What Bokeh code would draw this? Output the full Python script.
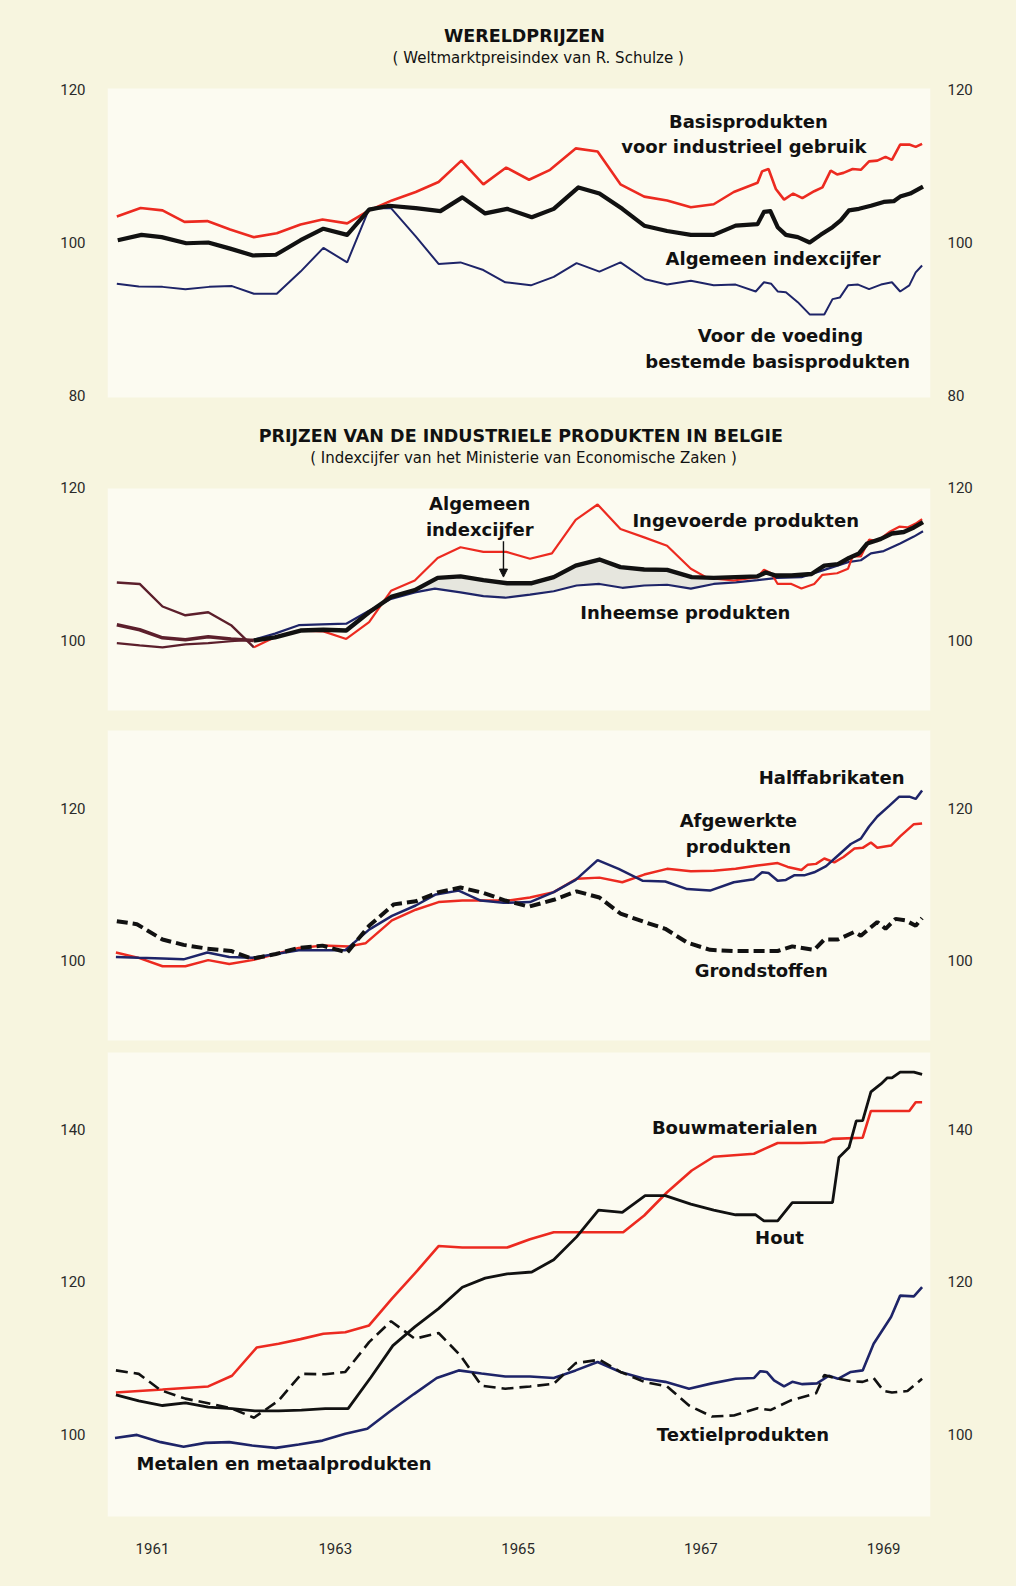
from bokeh.plotting import figure
from bokeh.models import Range1d, LinearAxis, FixedTicker, BoxAnnotation, Arrow, NormalHead, CustomJSTickFormatter, ColumnDataSource
from bokeh.layouts import column
from bokeh.core.properties import value
from bokeh.embed import file_html
from bokeh.resources import INLINE

# ---------------- DATA ----------------
# Panel 1: Wereldprijzen
W_IND_X = [1961.11, 1961.37, 1961.61, 1961.85, 1962.10, 1962.35, 1962.61, 1962.86, 1963.12, 1963.36, 1963.63, 1963.87,
           1964.12, 1964.38, 1964.63, 1964.88, 1965.12, 1965.37, 1965.62, 1965.85, 1966.13, 1966.37, 1966.62, 1966.88,
           1967.13, 1967.39, 1967.64, 1967.86, 1968.12, 1968.17, 1968.24, 1968.32, 1968.41, 1968.51, 1968.61, 1968.74,
           1968.83, 1968.92, 1968.99, 1969.06, 1969.16, 1969.25, 1969.34, 1969.43, 1969.52, 1969.59, 1969.68, 1969.78,
           1969.85, 1969.92]
W_IND_Y = [103.4, 104.5, 104.2, 102.7, 102.8, 101.7, 100.7, 101.2, 102.35, 103.0, 102.5, 104.2,
           105.5, 106.6, 107.9, 110.7, 107.6, 109.8, 108.2, 109.5, 112.3, 111.9, 107.6, 106.0,
           105.5, 104.6, 105.0, 106.6, 107.8, 109.3, 109.6, 107.0, 105.6, 106.4, 105.8, 106.7,
           107.2, 109.4, 108.9, 109.1, 109.6, 109.5, 110.6, 110.7, 111.2, 110.8, 112.8, 112.8,
           112.5, 112.9]
W_GEN_X = [1961.12, 1961.38, 1961.60, 1961.87, 1962.11, 1962.35, 1962.60, 1962.85, 1963.12, 1963.37, 1963.63, 1963.87,
           1964.09, 1964.38, 1964.65, 1964.89, 1965.14, 1965.38, 1965.65, 1965.89, 1966.16, 1966.39, 1966.64, 1966.88,
           1967.13, 1967.39, 1967.64, 1967.88, 1968.12, 1968.19, 1968.26, 1968.34, 1968.43, 1968.56, 1968.69, 1968.81,
           1968.94, 1969.03, 1969.12, 1969.23, 1969.36, 1969.50, 1969.61, 1969.68, 1969.79, 1969.93]
W_GEN_Y = [100.3, 101.0, 100.7, 99.9, 100.0, 99.2, 98.3, 98.4, 100.3, 101.8, 101.0, 104.3,
           104.8, 104.5, 104.1, 105.9, 103.8, 104.4, 103.3, 104.4, 107.2, 106.4, 104.4, 102.2,
           101.5, 101.0, 101.0, 102.2, 102.4, 104.0, 104.1, 102.0, 101.0, 100.7, 100.0, 101.0,
           102.0, 102.9, 104.2, 104.4, 104.8, 105.3, 105.4, 106.0, 106.4, 107.3]
W_FOOD_X = [1961.11, 1961.35, 1961.61, 1961.86, 1962.12, 1962.37, 1962.61, 1962.86, 1963.12, 1963.37, 1963.63, 1963.87,
            1964.11, 1964.38, 1964.63, 1964.87, 1965.12, 1965.36, 1965.64, 1965.89, 1966.14, 1966.39, 1966.62, 1966.89,
            1967.13, 1967.39, 1967.64, 1967.88, 1968.10, 1968.19, 1968.27, 1968.34, 1968.43, 1968.56, 1968.69, 1968.85,
            1968.94, 1969.02, 1969.11, 1969.22, 1969.34, 1969.47, 1969.59, 1969.68, 1969.78, 1969.85, 1969.92]
W_FOOD_Y = [94.6, 94.25, 94.2, 93.9, 94.2, 94.3, 93.3, 93.3, 96.2, 99.3, 97.4, 104.4,
            104.5, 100.8, 97.2, 97.4, 96.4, 94.8, 94.4, 95.5, 97.3, 96.2, 97.4, 95.2,
            94.5, 95.0, 94.4, 94.5, 93.6, 94.8, 94.6, 93.6, 93.5, 92.2, 90.6, 90.6,
            92.6, 92.8, 94.4, 94.5, 93.9, 94.5, 94.8, 93.6, 94.4, 96.1, 97.0]

# Panel 2: Prijzen van de industriele produkten in Belgie
B_EARLY_X = [1961.11, 1961.36, 1961.61, 1961.86, 1962.11, 1962.36, 1962.61]
B_IMP_EARLY = [107.6, 107.4, 104.45, 103.3, 103.7, 102.0, 99.1]
B_GEN_EARLY = [102.05, 101.4, 100.35, 100.1, 100.5, 100.2, 100.0]
B_DOM_EARLY = [99.65, 99.35, 99.1, 99.5, 99.65, 99.9, 100.1]
B_IMP_X = [1962.61, 1962.85, 1963.12, 1963.37, 1963.62, 1963.87, 1964.11, 1964.37, 1964.62, 1964.87, 1965.12, 1965.37,
           1965.63, 1965.87, 1966.13, 1966.37, 1966.62, 1966.88, 1967.13, 1967.39, 1967.57, 1967.86, 1968.12, 1968.19,
           1968.27, 1968.34, 1968.49, 1968.60, 1968.74, 1968.83, 1968.99, 1969.11, 1969.16, 1969.25, 1969.34, 1969.43,
           1969.56, 1969.67, 1969.76, 1969.85, 1969.92]
B_IMP_Y = [99.1, 100.5, 101.3, 101.2, 100.2, 102.4, 106.5, 107.85, 110.8, 112.2, 111.6, 111.6,
           110.7, 111.4, 115.8, 117.8, 114.6, 113.5, 112.4, 109.4, 108.2, 107.85, 108.3, 109.25,
           108.8, 107.4, 107.4, 106.8, 107.4, 108.6, 108.8, 109.4, 111.0, 111.0, 113.2, 113.0,
           114.2, 114.9, 114.8, 115.3, 115.9]
B_GEN_X = [1962.61, 1962.84, 1963.12, 1963.37, 1963.62, 1963.87, 1964.11, 1964.37, 1964.62, 1964.87, 1965.12, 1965.38,
           1965.65, 1965.89, 1966.13, 1966.39, 1966.62, 1966.88, 1967.13, 1967.40, 1967.64, 1967.88, 1968.12, 1968.21,
           1968.32, 1968.49, 1968.71, 1968.85, 1969.00, 1969.12, 1969.23, 1969.32, 1969.47, 1969.59, 1969.72, 1969.83,
           1969.93]
B_GEN_Y = [100.0, 100.4, 101.3, 101.4, 101.3, 103.7, 105.7, 106.6, 108.2, 108.4, 107.9, 107.5,
           107.5, 108.3, 109.8, 110.6, 109.6, 109.3, 109.25, 108.3, 108.2, 108.3, 108.4, 108.9,
           108.5, 108.5, 108.7, 109.8, 110.0, 110.8, 111.4, 112.7, 113.3, 114.0, 114.2, 114.8,
           115.5]
B_DOM_X = [1962.61, 1962.84, 1963.10, 1963.35, 1963.62, 1963.87, 1964.11, 1964.37, 1964.59, 1964.87, 1965.12, 1965.36,
           1965.63, 1965.89, 1966.14, 1966.39, 1966.64, 1966.88, 1967.13, 1967.39, 1967.64, 1967.88, 1968.12, 1968.34,
           1968.60, 1968.85, 1969.11, 1969.25, 1969.36, 1969.50, 1969.68, 1969.83, 1969.93]
B_DOM_Y = [100.1, 100.9, 102.0, 102.1, 102.2, 103.9, 105.45, 106.3, 106.8, 106.3, 105.8, 105.6,
           106.0, 106.45, 107.2, 107.4, 106.9, 107.2, 107.3, 106.8, 107.4, 107.6, 107.9, 108.2,
           108.3, 109.25, 110.25, 110.5, 111.4, 111.7, 112.7, 113.6, 114.3]

# Panel 3: Halffabrikaten / Afgewerkte produkten / Grondstoffen
H_SEMI_X = [1961.10, 1961.35, 1961.61, 1961.84, 1962.10, 1962.34, 1962.59, 1962.85, 1963.10, 1963.36, 1963.61, 1963.87,
            1964.12, 1964.38, 1964.60, 1964.85, 1965.09, 1965.34, 1965.63, 1965.89, 1966.13, 1966.37, 1966.60, 1966.86,
            1967.11, 1967.35, 1967.60, 1967.86, 1968.08, 1968.17, 1968.24, 1968.34, 1968.43, 1968.52, 1968.63, 1968.74,
            1968.87, 1969.00, 1969.14, 1969.25, 1969.34, 1969.43, 1969.56, 1969.67, 1969.78, 1969.85, 1969.92]
H_SEMI_Y = [100.5, 100.4, 100.3, 100.2, 101.1, 100.5, 100.4, 100.9, 101.4, 101.4, 101.4, 104.1,
            105.9, 107.25, 108.7, 109.2, 107.9, 107.6, 107.7, 109.0, 110.6, 113.2, 112.05, 110.5,
            110.4, 109.4, 109.2, 110.3, 110.7, 111.6, 111.5, 110.5, 110.6, 111.2, 111.2, 111.6,
            112.4, 113.8, 115.3, 116.0, 117.6, 118.9, 120.3, 121.5, 121.5, 121.2, 122.3]
H_FIN_X = [1961.10, 1961.35, 1961.61, 1961.86, 1962.11, 1962.34, 1962.59, 1962.85, 1963.10, 1963.36, 1963.65, 1963.83,
           1964.12, 1964.38, 1964.63, 1964.89, 1965.14, 1965.40, 1965.63, 1965.89, 1966.14, 1966.39, 1966.64, 1966.88,
           1967.13, 1967.39, 1967.64, 1967.88, 1968.12, 1968.34, 1968.45, 1968.60, 1968.67, 1968.76, 1968.85, 1968.96,
           1969.06, 1969.18, 1969.27, 1969.36, 1969.43, 1969.58, 1969.68, 1969.83, 1969.92]
H_FIN_Y = [101.1, 100.4, 99.3, 99.3, 100.1, 99.6, 100.1, 100.9, 101.7, 102.0, 101.9, 102.3,
           105.3, 106.7, 107.7, 107.9, 107.9, 107.9, 108.3, 109.0, 110.75, 110.9, 110.3, 111.3,
           112.05, 111.75, 111.8, 112.05, 112.5, 112.8, 112.3, 111.9, 112.6, 112.7, 113.4, 112.9,
           113.6, 114.7, 114.8, 115.5, 114.8, 115.1, 116.3, 117.9, 118.0]
H_RAW_X = [1961.11, 1961.33, 1961.61, 1961.84, 1962.10, 1962.36, 1962.59, 1962.85, 1963.10, 1963.36, 1963.63, 1963.87,
           1964.14, 1964.38, 1964.63, 1964.87, 1965.12, 1965.36, 1965.62, 1965.89, 1966.14, 1966.39, 1966.62, 1966.88,
           1967.11, 1967.35, 1967.60, 1967.86, 1968.12, 1968.34, 1968.50, 1968.74, 1968.85, 1969.00, 1969.18, 1969.25,
           1969.36, 1969.43, 1969.52, 1969.63, 1969.74, 1969.85, 1969.92]
H_RAW_Y = [105.2, 104.8, 102.8, 102.1, 101.6, 101.3, 100.3, 100.9, 101.7, 102.0, 101.1, 104.6,
           107.4, 107.8, 109.0, 109.6, 108.9, 107.9, 107.1, 108.0, 109.1, 108.3, 106.2, 105.1,
           104.2, 102.4, 101.45, 101.3, 101.3, 101.3, 101.9, 101.45, 102.8, 102.8, 103.8, 103.3,
           104.4, 105.1, 104.2, 105.5, 105.3, 104.6, 105.6]

# Panel 4: Bouwmaterialen / Hout / Metalen / Textiel
S_BUILD_X = [1961.10, 1961.35, 1961.61, 1961.86, 1962.11, 1962.37, 1962.64, 1962.88, 1963.12, 1963.37, 1963.61, 1963.87,
             1964.12, 1964.40, 1964.63, 1964.89, 1965.12, 1965.38, 1965.63, 1965.89, 1966.14, 1966.40, 1966.65, 1966.88,
             1967.13, 1967.40, 1967.64, 1967.86, 1968.08, 1968.19, 1968.34, 1968.60, 1968.85, 1968.94, 1969.27, 1969.36,
             1969.59, 1969.78, 1969.85, 1969.92]
S_BUILD_Y = [105.5, 105.7, 105.9, 106.1, 106.3, 107.7, 111.4, 111.9, 112.5, 113.2, 113.4, 114.3,
             117.8, 121.5, 124.7, 124.5, 124.5, 124.5, 125.6, 126.5, 126.5, 126.5, 126.5, 128.7,
             131.75, 134.6, 136.4, 136.6, 136.8, 137.4, 138.2, 138.2, 138.3, 138.75, 138.9, 142.4,
             142.4, 142.4, 143.55, 143.55]
S_WOOD_X = [1961.10, 1961.35, 1961.61, 1961.86, 1962.11, 1962.37, 1962.62, 1962.88, 1963.13, 1963.39, 1963.64, 1963.89,
            1964.13, 1964.37, 1964.63, 1964.89, 1965.14, 1965.38, 1965.65, 1965.89, 1966.14, 1966.38, 1966.64, 1966.89,
            1967.11, 1967.39, 1967.64, 1967.88, 1968.10, 1968.19, 1968.34, 1968.50, 1968.72, 1968.94, 1969.01, 1969.12,
            1969.20, 1969.27, 1969.36, 1969.47, 1969.54, 1969.59, 1969.68, 1969.83, 1969.92]
S_WOOD_Y = [105.2, 104.4, 103.8, 104.15, 103.6, 103.4, 103.1, 103.1, 103.2, 103.4, 103.4, 107.5,
            111.65, 114.1, 116.5, 119.3, 120.5, 121.05, 121.3, 122.9, 125.9, 129.4, 129.1, 131.3,
            131.3, 130.2, 129.4, 128.8, 128.8, 128.0, 128.0, 130.4, 130.4, 130.4, 136.3, 137.6,
            141.1, 141.15, 144.9, 145.95, 146.75, 146.75, 147.5, 147.5, 147.2]
S_METAL_X = [1961.09, 1961.33, 1961.59, 1961.84, 1962.08, 1962.34, 1962.59, 1962.85, 1963.10, 1963.36, 1963.61, 1963.85,
             1964.10, 1964.36, 1964.61, 1964.85, 1965.10, 1965.36, 1965.63, 1965.89, 1966.13, 1966.37, 1966.62, 1966.88,
             1967.11, 1967.37, 1967.62, 1967.88, 1968.08, 1968.15, 1968.22, 1968.30, 1968.41, 1968.50, 1968.61, 1968.77,
             1968.90, 1969.00, 1969.14, 1969.27, 1969.39, 1969.58, 1969.68, 1969.83, 1969.92]
S_METAL_Y = [99.55, 99.95, 99.0, 98.4, 98.9, 99.0, 98.55, 98.25, 98.7, 99.2, 100.1, 100.75,
             103.05, 105.3, 107.4, 108.4, 108.0, 107.6, 107.6, 107.4, 108.4, 109.5, 108.2, 107.3,
             106.9, 106.0, 106.7, 107.3, 107.4, 108.3, 108.2, 107.1, 106.3, 106.9, 106.6, 106.7,
             107.7, 107.3, 108.2, 108.4, 111.9, 115.4, 118.2, 118.1, 119.3]
S_TEXT_X = [1961.10, 1961.35, 1961.59, 1961.86, 1962.11, 1962.37, 1962.61, 1962.88, 1963.13, 1963.39, 1963.61, 1963.87,
            1964.11, 1964.37, 1964.63, 1964.87, 1965.10, 1965.36, 1965.63, 1965.89, 1966.13, 1966.39, 1966.62, 1966.88,
            1967.13, 1967.37, 1967.62, 1967.86, 1968.12, 1968.26, 1968.49, 1968.76, 1968.85, 1968.96, 1969.14, 1969.27,
            1969.39, 1969.50, 1969.59, 1969.76, 1969.92]
S_TEXT_Y = [108.4, 107.95, 105.8, 104.7, 104.1, 103.4, 102.2, 104.45, 107.95, 107.9, 108.2, 112.1,
            114.85, 112.55, 113.3, 110.35, 106.4, 106.0, 106.3, 106.65, 109.35, 109.8, 108.2, 106.9,
            106.3, 103.8, 102.35, 102.5, 103.45, 103.2, 104.5, 105.4, 107.8, 107.4, 107.0, 106.9,
            107.4, 105.7, 105.5, 105.7, 107.3]

YEAR_TICKS = [1961.5, 1963.5, 1965.5, 1967.5, 1969.5]
TICKS_P1 = [80, 100, 120]
TICKS_P2 = [100, 120]
TICKS_P3 = [100, 120]
TICKS_P4 = [100, 120, 140]

# ---------------- STYLE ----------------
PAGE = "#F7F5DF"
BOX = "#FCFBF1"
RED = "#EC2A20"
NAVY = "#1E2468"
BLACK = "#111111"
MAROON = "#5C1F2C"
LABEL_FONT = value("DejaVu Sans")
TICK_FONT = "Roboto"

X_RANGE = (1961.008, 1970.012)


def make_fig(height, ylo, yhi, ticks, bottom_border=0, xaxis=False):
    p = figure(width=1000, height=height,
               x_range=Range1d(*X_RANGE), y_range=Range1d(ylo, yhi),
               output_backend="svg", toolbar_location=None,
               x_axis_location="below" if xaxis else None, y_axis_location="left",
               min_border_left=99, min_border_right=78, min_border_top=0,
               min_border_bottom=bottom_border,
               background_fill_color=PAGE, border_fill_color=PAGE, outline_line_color=None)
    p.grid.visible = False
    right = LinearAxis()
    p.add_layout(right, "right")
    for ax, standoff in ((p.yaxis[0], 22), (right, 17)):
        ax.ticker = FixedTicker(ticks=ticks)
        ax.axis_line_color = None
        ax.major_tick_line_color = None
        ax.minor_tick_line_color = None
        ax.major_tick_in = 0
        ax.major_tick_out = 0
        ax.major_label_standoff = standoff
        ax.major_label_text_font = TICK_FONT
        ax.major_label_text_font_size = "15px"
        ax.major_label_text_color = "#2A2A2A"
    if xaxis:
        xa = p.xaxis[0]
        xa.ticker = FixedTicker(ticks=YEAR_TICKS)
        xa.formatter = CustomJSTickFormatter(code="return String(Math.floor(tick));")
        xa.axis_line_color = None
        xa.major_tick_line_color = None
        xa.minor_tick_line_color = None
        xa.major_tick_in = 0
        xa.major_tick_out = 0
        xa.major_label_standoff = 22
        xa.major_label_text_font = TICK_FONT
        xa.major_label_text_font_size = "15px"
        xa.major_label_text_color = "#2A2A2A"
    return p


def add_box(p, bottom, top):
    p.add_layout(BoxAnnotation(bottom=bottom, top=top, fill_color=BOX, fill_alpha=1.0,
                               line_color=None, level="underlay"))


def add_labels(p, xs, ys, texts, size="18px"):
    src = ColumnDataSource(dict(x=xs, y=ys, t=texts))
    p.text(x="x", y="y", text="t", source=src, text_font=LABEL_FONT, text_font_style="bold",
           text_font_size=size, text_align="center", text_baseline="middle", text_color=BLACK)


def add_title(p, x, y, title, sub_x, sub_y, subtitle):
    p.text(x=[x], y=[y], text=[title], text_font=LABEL_FONT, text_font_style="bold",
           text_font_size="17.5px", text_align="center", text_baseline="middle", text_color=BLACK)
    p.text(x=[sub_x], y=[sub_y], text=[subtitle], text_font=LABEL_FONT,
           text_font_size="15px", text_align="center", text_baseline="middle", text_color=BLACK)


# ---------------- PANEL 1 ----------------
p1 = make_fig(404, 77.778, 130.588, TICKS_P1)
add_box(p1, 79.74, 120.13)
add_title(p1, 1965.57, 127.0, "WERELDPRIJZEN", 1965.72, 124.1, "( Weltmarktpreisindex van R. Schulze )")
p1.line(W_FOOD_X, W_FOOD_Y, line_color=NAVY, line_width=2.0)
p1.line(W_IND_X, W_IND_Y, line_color=RED, line_width=2.6)
p1.line(W_GEN_X, W_GEN_Y, line_color=BLACK, line_width=4.2, line_join="round")
add_labels(p1, [1968.02, 1967.97, 1968.29, 1968.37, 1968.34],
           [115.8, 112.5, 97.9, 87.8, 84.5],
           ["Basisprodukten", "voor industrieel gebruik", "Algemeen indexcijfer",
            "Voor de voeding", "bestemde basisprodukten"])

# ---------------- PANEL 2 ----------------
p2 = make_fig(306, 89.791, 129.843, TICKS_P2)
add_box(p2, 90.84, 119.9)
add_title(p2, 1965.53, 126.8, "PRIJZEN VAN DE INDUSTRIELE PRODUKTEN IN BELGIE",
          1965.56, 123.9, "( Indexcijfer van het Ministerie van Economische Zaken )")
# shaded gap between general index and domestic products
sx = [x for x in B_GEN_X if 1963.8 <= x <= 1967.9] + [x for x in B_DOM_X if 1963.8 <= x <= 1967.9][::-1]
sy = [y for x, y in zip(B_GEN_X, B_GEN_Y) if 1963.8 <= x <= 1967.9] + \
     [y for x, y in zip(B_DOM_X, B_DOM_Y) if 1963.8 <= x <= 1967.9][::-1]
p2.patch(sx, sy, fill_color="#E6E6DE", line_color=None)
p2.line(B_EARLY_X, B_IMP_EARLY, line_color=MAROON, line_width=2.4)
p2.line(B_EARLY_X, B_DOM_EARLY, line_color=MAROON, line_width=2.2)
p2.line(B_EARLY_X, B_GEN_EARLY, line_color=MAROON, line_width=3.6)
p2.line(B_DOM_X, B_DOM_Y, line_color=NAVY, line_width=2.2)
p2.line(B_IMP_X, B_IMP_Y, line_color=RED, line_width=2.2)
p2.line(B_GEN_X, B_GEN_Y, line_color=BLACK, line_width=4.4, line_join="round")
add_labels(p2, [1965.08, 1965.08, 1967.99, 1967.33],
           [117.9, 114.5, 115.7, 103.7],
           ["Algemeen", "indexcijfer", "Ingevoerde produkten", "Inheemse produkten"])
p2.add_layout(Arrow(end=NormalHead(size=8, fill_color=BLACK, line_color=BLACK, line_width=1),
                    x_start=1965.34, y_start=113.0, x_end=1965.34, y_end=108.3,
                    line_color=BLACK, line_width=1.4))

# ---------------- PANEL 3 ----------------
p3 = make_fig(328, 88.796, 131.728, TICKS_P3)
add_box(p3, 89.58, 130.17)
p3.line(H_FIN_X, H_FIN_Y, line_color=RED, line_width=2.5)
p3.line(H_SEMI_X, H_SEMI_Y, line_color=NAVY, line_width=2.5)
p3.line(H_RAW_X, H_RAW_Y, line_color=BLACK, line_width=4.0, line_dash="11 5")
add_labels(p3, [1968.93, 1967.91, 1967.91, 1968.16],
           [124.0, 118.4, 115.0, 98.8],
           ["Halffabrikaten", "Afgewerkte", "produkten", "Grondstoffen"])

# ---------------- PANEL 4 ----------------
p4 = make_fig(532, 88.729, 150.852, TICKS_P4, bottom_border=58, xaxis=True)
add_box(p4, 89.25, 150.07)
p4.line(S_BUILD_X, S_BUILD_Y, line_color=RED, line_width=2.6)
p4.line(S_METAL_X, S_METAL_Y, line_color=NAVY, line_width=2.6)
p4.line(S_WOOD_X, S_WOOD_Y, line_color=BLACK, line_width=2.8)
p4.line(S_TEXT_X, S_TEXT_Y, line_color=BLACK, line_width=2.6, line_dash="12 6")
add_labels(p4, [1967.87, 1968.36, 1967.96, 1962.94],
           [140.2, 125.8, 100.0, 96.2],
           ["Bouwmaterialen", "Hout", "Textielprodukten", "Metalen en metaalprodukten"])

layout = column(p1, p2, p3, p4, spacing=0)
html = file_html(layout, INLINE)
html = html.replace("</head>",
                    "<style>html{background:%s;} body{background:%s;margin:8px !important;padding:0;}</style></head>"
                    % (PAGE, PAGE), 1)
open("out.html", "w").write(html)
